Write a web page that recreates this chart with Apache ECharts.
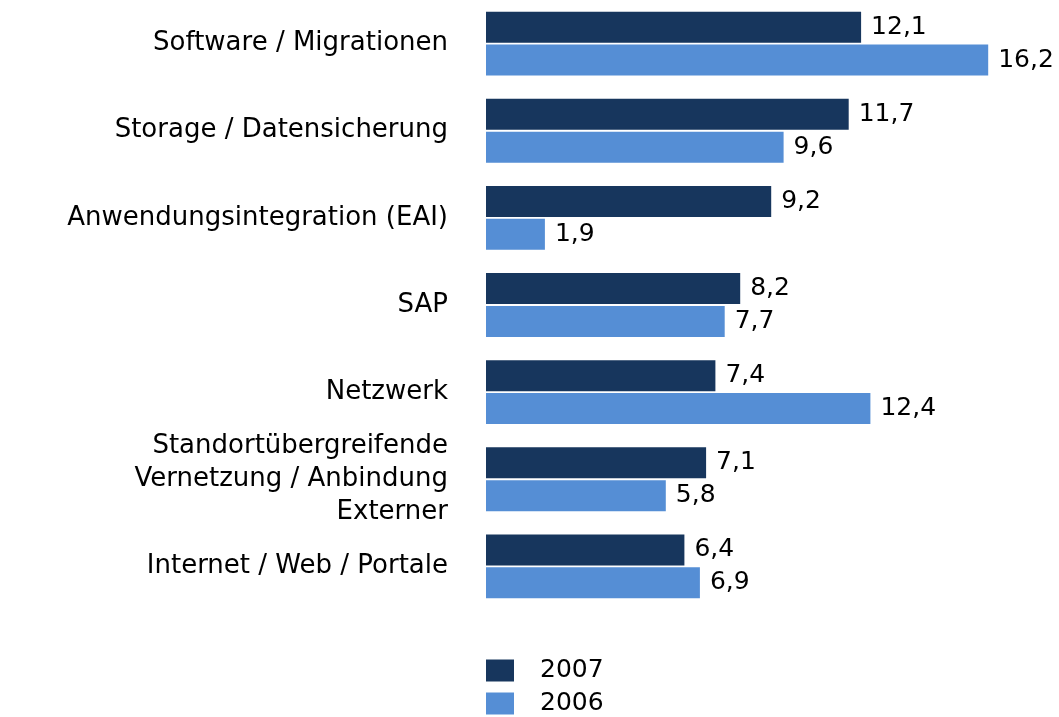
<!DOCTYPE html>
<html>
<head>
<meta charset="utf-8">
<script src="https://cdn.jsdelivr.net/npm/echarts@6/dist/echarts.min.js"></script>
<style>
  html, body { margin: 0; padding: 0; background: #fff; }
  #chart { width: 1059px; height: 717px; }
</style>
</head>
<body>
<div id="chart"></div>
<script>
// Kategorien und Werte
const categories = [
  'Software / Migrationen',
  'Storage / Datensicherung',
  'Anwendungsintegration (EAI)',
  'SAP',
  'Netzwerk',
  'Standortübergreifende\nVernetzung / Anbindung\nExterner',
  'Internet / Web / Portale'
];
const values2007 = [12.1, 11.7, 9.2, 8.2, 7.4, 7.1, 6.4];
const values2006 = [16.2, 9.6, 1.9, 7.7, 12.4, 5.8, 6.9];

(function () {
  const myChart = echarts.init(document.getElementById('chart'));
  const font = 'Verdana, "DejaVu Sans", "Noto Sans", sans-serif';
  const fmt = function (p) {
    return String(p.value).replace('.', ',');
  };
  const valueLabel = {
    show: true,
    position: 'right',
    distance: 10,
    fontSize: 25,
    color: '#000',
    fontFamily: font,
    formatter: fmt
  };
  let option = {
    animation: false,
    color: ['#17365d', '#558ed5'],
    textStyle: { fontFamily: font },
    legend: {
      orient: 'vertical',
      left: 486,
      top: 658,
      height: 80,
      padding: 0,
      itemWidth: 28,
      itemHeight: 22,
      itemGap: 8,
      icon: 'rect',
      data: ['2007', '2006'],
      textStyle: { fontSize: 25, lineHeight: 22, color: '#000', fontFamily: font, padding: [0, 0, 0, 21] }
    },
    grid: {
      left: 486,
      right: 15,
      top: -3,
      height: 613
    },
    xAxis: {
      type: 'value',
      min: 0,
      max: 18,
      show: false
    },
    yAxis: {
      type: 'category',
      inverse: true,
      data: categories,
      axisLine: { show: false },
      axisTick: { show: false },
      axisLabel: {
        fontSize: 26,
        color: '#000',
        margin: 38,
        lineHeight: 33,
        fontFamily: font
      }
    },
    series: [{
        name: '2007',
        type: 'bar',
        barWidth: 31,
        barGap: '6%',
        data: values2007,
        label: valueLabel
      },
      {
        name: '2006',
        type: 'bar',
        barWidth: 31,
        barGap: '6%',
        data: values2006,
        label: valueLabel
      }
    ]
  };
  myChart.setOption(option);
  window.addEventListener('resize', function () {
    myChart.resize();
  });
})();
</script>
</body>
</html>
